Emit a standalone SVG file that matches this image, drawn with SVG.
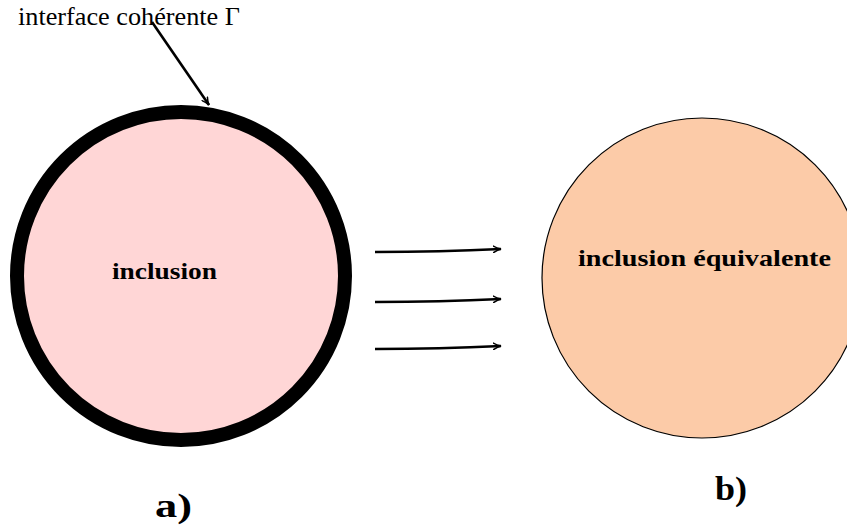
<svg xmlns="http://www.w3.org/2000/svg" width="847" height="529" viewBox="0 0 847 529">
<style>
.t{font-family:"Liberation Serif","DejaVu Serif",serif;fill:#000}
.b{font-weight:bold}
.c{stroke:#000;stroke-width:2.6;fill:none}
</style>
<defs>
<marker id="ah" markerWidth="10" markerHeight="8" refX="8" refY="4" orient="auto" markerUnits="userSpaceOnUse">
<path d="M0,0.5 Q4,3 8,4 Q4,5 0,7.5" fill="none" stroke="#000" stroke-width="1.5"/>
</marker>
</defs>
<rect width="847" height="529" fill="#fff"/>
<g id="inclusion">
<circle cx="181" cy="276" r="164" fill="#FFD6D6" stroke="#000" stroke-width="14"/>
<text class="t b" x="112" y="279" font-size="23" textLength="105" lengthAdjust="spacingAndGlyphs">inclusion</text>
</g>
<g id="inclusion-equivalente">
<circle cx="702" cy="278" r="160" fill="#FCCBA8" stroke="#000" stroke-width="1.2"/>
<text class="t b" x="578" y="266" font-size="23" textLength="253" lengthAdjust="spacingAndGlyphs">inclusion équivalente</text>
</g>
<g id="label-interface">
<text class="t" x="18" y="25" font-size="25" textLength="222" lengthAdjust="spacingAndGlyphs">interface cohérente Γ</text>
</g>
<g id="label-a"><text class="t b" x="155" y="517" font-size="34" textLength="37" lengthAdjust="spacingAndGlyphs">a)</text></g>
<g id="label-b"><text class="t b" x="715" y="500" font-size="34" textLength="32" lengthAdjust="spacingAndGlyphs">b)</text></g>
<g id="connectors">
<path d="M152,22 L209,105" class="c" marker-end="url(#ah)"/>
<path d="M375,252 Q440,252 501,249" class="c" marker-end="url(#ah)"/>
<path d="M375,302 Q440,302 501,299" class="c" marker-end="url(#ah)"/>
<path d="M375,349 Q440,349 501,346" class="c" marker-end="url(#ah)"/>
</g>
</svg>
